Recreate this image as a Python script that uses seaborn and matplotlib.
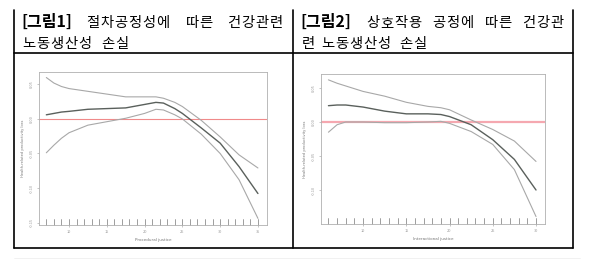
import matplotlib
matplotlib.use("Agg")
import matplotlib.pyplot as plt
import seaborn as sns
import pandas as pd
from matplotlib.lines import Line2D

sns.set_style("white")
plt.rcParams['font.family'] = ['Noto Sans CJK KR', 'DejaVu Sans']

# ---- data: figure 1 (procedural justice) ----
x1 = [7, 8, 9, 10, 12.5, 15, 17.5, 20, 21.5, 22.5, 24, 25, 27.5, 30, 32.5, 35]
fit1 = [0.006, 0.008, 0.010, 0.011, 0.014, 0.015, 0.016, 0.021, 0.024, 0.023, 0.015, 0.008, -0.013, -0.035, -0.069, -0.108]
upper1 = [0.060, 0.052, 0.047, 0.044, 0.040, 0.036, 0.032, 0.032, 0.032, 0.030, 0.024, 0.018, -0.002, -0.026, -0.052, -0.071]
lower1 = [-0.049, -0.038, -0.028, -0.020, -0.009, -0.004, 0.001, 0.008, 0.014, 0.013, 0.006, 0.000, -0.022, -0.050, -0.088, -0.144]
rug1 = [7, 8, 9, 10, 11, 12, 13, 14, 15, 16, 17, 18, 19, 20, 21, 22, 23, 24, 25,
        26, 27, 28, 29, 30, 31, 32, 33, 34, 35]
xticks1 = [10, 15, 20, 25, 30, 35]
yticks1 = [0.05, 0.00, -0.05, -0.10, -0.15]
ytick_labels1 = ["0.05", "0.00", "-0.05", "-0.10", "-0.15"]

# ---- data: figure 2 (interactional justice) ----
x2 = [6, 7, 8, 10, 12.5, 15, 17.5, 19, 20, 22.5, 25, 27.5, 30]
fit2 = [0.024, 0.025, 0.025, 0.022, 0.016, 0.012, 0.012, 0.011, 0.008, -0.004, -0.026, -0.055, -0.100]
upper2 = [0.062, 0.057, 0.053, 0.045, 0.038, 0.029, 0.023, 0.021, 0.018, 0.003, -0.011, -0.028, -0.058]
lower2 = [-0.015, -0.004, 0.000, 0.000, -0.001, -0.001, 0.000, 0.001, -0.002, -0.014, -0.033, -0.070, -0.139]
rug2 = [6, 7, 8, 9, 10, 11, 12, 13, 14, 15, 16, 17, 18, 19, 20, 21, 22, 23, 24,
        25, 26, 27, 28, 29, 30]
xticks2 = [10, 15, 20, 25, 30]
yticks2 = [0.05, 0.00, -0.05, -0.10]
ytick_labels2 = ["0.05", "0.00", "-0.05", "-0.10"]

xlabel1 = "Procedural justice"
xlabel2 = "Interactional justice"
ylabel = "Health-related productivity loss"

label1 = "[그림1]"
label2 = "[그림2]"
title1_line1 = ["절차공정성에", "따른", "건강관련"]
title1_line2 = ["노동생산성", "손실"]
title2_line1 = ["상호작용", "공정에", "따른", "건강관"]
title2_line2 = ["련", "노동생산성", "손실"]

W, H = 594, 262
fig = plt.figure(figsize=(W / 100, H / 100), dpi=100)


def px_axes(l, t, r, b):
    return fig.add_axes([l / W, 1 - b / H, (r - l) / W, (b - t) / H])


def draw_panel(ax, x, fit, up, lo, rug, xticks, yticks, ylabels, xlim, ylim, xlabel, red_lw, red_color):
    df = pd.DataFrame({"x": x, "fit": fit, "upper": up, "lower": lo})
    ax.axhline(0, color=red_color, lw=red_lw, zorder=1)
    sns.lineplot(data=df, x="x", y="upper", ax=ax, color="#a8a8a8", lw=0.8)
    sns.lineplot(data=df, x="x", y="lower", ax=ax, color="#a8a8a8", lw=0.8)
    sns.lineplot(data=df, x="x", y="fit", ax=ax, color="#5a605c", lw=1.0)
    ax.set_xlim(*xlim)
    ax.set_ylim(*ylim)
    for xv in rug:
        ax.plot([xv, xv], [0.0, 0.04], transform=ax.get_xaxis_transform(),
                color="#777777", lw=0.5, clip_on=False)
    ax.set_xticks(xticks)
    ax.set_xticklabels([str(v) for v in xticks])
    ax.set_yticks(yticks)
    ax.set_yticklabels(ylabels, rotation=90, va="center")
    ax.tick_params(axis="both", labelsize=2.8, colors="#999999", length=1.5,
                   width=0.4, pad=2, direction="out", bottom=True, left=True)
    ax.set_xlabel(xlabel, fontsize=3, color="#777777", labelpad=3, family="DejaVu Sans")
    ax.set_ylabel(ylabel, fontsize=2.6, color="#777777", labelpad=4, family="DejaVu Sans")
    for s in ax.spines.values():
        s.set_color("#b0b0b0")
        s.set_linewidth(0.6)


ax1 = px_axes(39, 72, 267, 225)
draw_panel(ax1, x1, fit1, upper1, lower1, rug1, xticks1, yticks1, ytick_labels1,
           (6.03, 36.2), (-0.1536, 0.068), xlabel1, 0.8, "#f08a8a")

ax2 = px_axes(321, 74, 545, 224)
draw_panel(ax2, x2, fit2, upper2, lower2, rug2, xticks2, yticks2, ytick_labels2,
           (5.14, 31.04), (-0.150, 0.0706), xlabel2, 1.6, "#f5a8b0")

# ---- table lines ----
def hline(y, x0, x1_, lw=1.2, color="black"):
    fig.add_artist(Line2D([x0 / W, x1_ / W], [1 - y / H, 1 - y / H], color=color, lw=lw))


def vline(x, y0, y1, lw=1.2, color="black"):
    fig.add_artist(Line2D([x / W, x / W], [1 - y0 / H, 1 - y1 / H], color=color, lw=lw))

left, mid, right = 14, 293, 573
top, sep, bottom = 10, 53, 248
hline(sep, left, right)
hline(bottom, left, right)
vline(left, top, bottom)
vline(mid, top, bottom)
vline(right, top, bottom)
hline(258, 14, 580, lw=0.5, color="#ececec")

# ---- titles (each Hangul syllable on a fixed-width grid, like the Gulim original) ----
ADV = 14.0
FS = 10.3


def put_word(word, x0, y):
    for i, ch in enumerate(word):
        fig.text((x0 + ADV * (i + 0.5)) / W, 1 - y / H, ch, fontsize=FS,
                 va="baseline", ha="center", color="black")


def put_words(words, xs, y):
    for w, xp in zip(words, xs):
        put_word(w, xp, y)


def put_label(text, x0, y):
    fig.text(x0 / W, 1 - y / H, text, fontsize=11.5, va="baseline", ha="left",
             fontweight="bold", color="black")

put_label(label1, 21, 27)
put_words(title1_line1, [86, 185, 227], 27)
put_words(title1_line2, [22, 101], 48)
put_label(label2, 300, 27)
put_words(title2_line1, [366, 432, 484, 522], 27)
put_words(title2_line2, [301, 321, 399], 48)

fig.savefig("out.png", dpi=100)
